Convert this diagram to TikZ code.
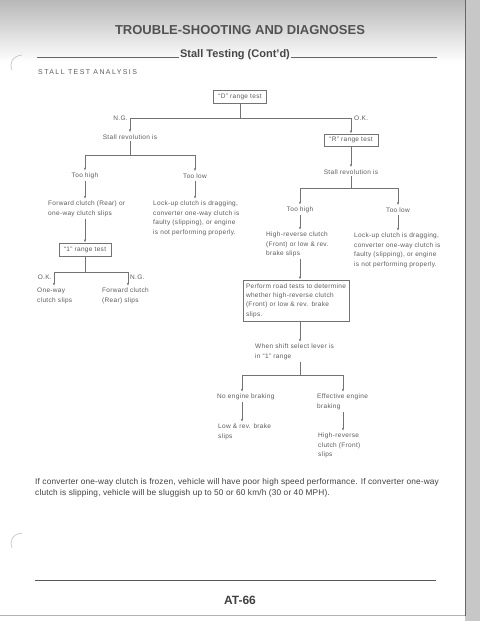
\documentclass[tikz,border=0pt]{standalone}
\usepackage{fontspec}
\setmainfont{Liberation Sans}
\newfontfamily\diagfont{Liberation Sans}[LetterSpace=5]
\newfontfamily\spacedfont{Liberation Sans}[LetterSpace=20]
\newfontfamily\parafont{Liberation Sans}[LetterSpace=2]
\usetikzlibrary{arrows.meta}
\definecolor{ink}{gray}{0.36}
\definecolor{rulec}{gray}{0.45}
\begin{document}
\begin{tikzpicture}[x=1pt,y=-1pt,
  every node/.style={inner sep=0pt, text=ink},
  dtext/.style={font=\diagfont\fontsize{6.5}{9.4}\selectfont, align=left},
  lt/.style={dtext, anchor=north west},
  ct/.style={dtext, anchor=center},
  rbox/.style={dtext, draw=rulec, line width=0.6pt, inner xsep=3pt, inner ysep=2pt},
  ln/.style={draw=rulec, line width=0.6pt},
  arr/.style={ln, -{Latex[length=3pt,width=2.2pt]}},
  hdr/.style={draw=black!60, line width=0.8pt}
]
\useasboundingbox (0,0) rectangle (480,621);
% page background
\fill[white] (0,0) rectangle (480,621);
\shade[top color=black!28, bottom color=white] (0,0) rectangle (465,62);
\fill[black!22] (465,0) rectangle (480,621);
\draw[black!60, line width=1pt] (465,0) -- (465,616);
\draw[black!30, line width=0.6pt] (0,615) -- (465,615);
\draw[black!25, line width=0.6pt] (22,55) .. controls (12,56) and (9,64) .. (12,70);
\draw[black!25, line width=0.6pt] (22,533) .. controls (12,534) and (9,542) .. (12,548);

% headings
\node[font=\bfseries\fontsize{13}{13}\selectfont, text=black!68] (title) at (240,30) {TROUBLE-SHOOTING AND DIAGNOSES};
\node[font=\bfseries\fontsize{11}{11}\selectfont, text=black!72, anchor=base, inner xsep=1pt] (sub) at (235,57) {Stall Testing (Cont’d)};
\coordinate (subL) at (37,57);
\coordinate (subR) at (437,57);
\draw[hdr] (subL) -- (sub.base west);
\draw[hdr] (sub.base east) -- (subR);
\node[font=\spacedfont\fontsize{7}{7}\selectfont, anchor=west] (sta) at (38,72.5) {STALL TEST ANALYSIS};

% D range test
\node[rbox, minimum width=53pt, minimum height=13pt] (D) at (240,96.5) {“D” range test};
\coordinate (busL) at (130,118);
\coordinate (busR) at (351,118);
\draw[ln] (D.south) -- (D.south |- busL);
\draw[ln] (busL) -- (busR);
\node[dtext, anchor=east] (ngL) at (128,118) {N.G.};
\node[dtext, anchor=west] (okR) at (354,118) {O.K.};

% left branch
\node[ct] (srL) at (130,137) {Stall revolution is};
\draw[arr, shorten >=2pt] (busL) -- (srL.north);
\coordinate (b2) at (130,155);
\draw[ln, shorten <=1.5pt] (srL.south) -- (b2);
\node[ct] (hiL) at (85,176) {Too high};
\node[ct] (loL) at (195,176) {Too low};
\draw[arr, shorten >=2pt] (b2) -| (hiL.north);
\draw[arr, shorten >=2pt] (b2) -| (loL.north);
\node[lt] (fwd) at (48,201) {Forward clutch (Rear) or\\one-way clutch slips};
\node[lt] (lk1) at (153,201) {Lock-up clutch is dragging,\\converter one-way clutch is\\faulty (slipping), or engine\\is not performing properly.};
\draw[arr, shorten <=2pt, shorten >=2pt] (hiL.south) -- (hiL.south |- fwd.north);
\draw[arr, shorten <=2pt, shorten >=2pt] (loL.south) -- (loL.south |- lk1.north);
\node[rbox, minimum width=52pt, minimum height=13pt] (one) at (85,249.5) {“1” range test};
\draw[arr, shorten <=2pt] (hiL |- fwd.south) -- (one.north);
\coordinate (b3) at (85,272);
\coordinate (okc) at (54,272);
\coordinate (ngc) at (128,272);
\draw[ln] (one.south) -- (b3);
\draw[ln] (okc) -- (ngc);
\node[dtext, anchor=east] (okL) at (52,277) {O.K.};
\node[dtext, anchor=west] (ngL2) at (130,277) {N.G.};
\node[lt] (ow) at (37,288) {One-way\\clutch slips};
\node[lt] (fr) at (102,288) {Forward clutch\\(Rear) slips};
\draw[arr, shorten >=2pt] (okc) -- (okc |- ow.north);
\draw[arr, shorten >=2pt] (ngc) -- (ngc |- fr.north);

% right branch
\node[rbox, minimum width=54pt, minimum height=12pt] (R) at (351,140) {“R” range test};
\draw[arr] (busR) -- (R.north);
\node[ct] (srR) at (351,172) {Stall revolution is};
\draw[arr, shorten >=2pt] (R.south) -- (srR.north);
\coordinate (b4) at (351,188);
\draw[ln, shorten <=1.5pt] (srR.south) -- (b4);
\node[ct] (hiR) at (300,210) {Too high};
\node[ct] (loR) at (398,210) {Too low};
\draw[arr, shorten >=2pt] (b4) -| (hiR.north);
\draw[arr, shorten >=2pt] (b4) -| (loR.north);
\node[lt] (hr) at (266,232) {High-reverse clutch\\(Front) or low \& rev.\\brake slips};
\node[lt] (lk2) at (354,233) {Lock-up clutch is dragging,\\converter one-way clutch is\\faulty (slipping), or engine\\is not performing properly.};
\draw[arr, shorten <=2pt, shorten >=2pt] (hiR.south) -- (hiR.south |- hr.north);
\draw[arr, shorten <=2pt, shorten >=2pt] (loR.south) -- (loR.south |- lk2.north);
\node[rbox, text width=100pt, minimum height=41pt, inner xsep=3pt] (perf) at (296,300.5) {Perform road tests to determine\\whether high-reverse clutch\\(Front) or low \& rev. brake\\slips.};
\draw[arr, shorten <=2pt] (hiR |- hr.south) -- (hiR |- perf.north);
\node[lt] (when) at (255,344) {When shift select lever is\\in “1” range};
\draw[arr, shorten >=2pt] (hiR |- perf.south) -- (hiR |- when.north);
\coordinate (b5) at (300,375);
\coordinate (ne) at (242,375);
\coordinate (ef) at (343,375);
\draw[ln, shorten <=2pt] (hiR |- when.south) -- (b5);
\draw[ln] (ne) -- (ef);
\node[lt] (noeng) at (217,394) {No engine braking};
\node[lt] (eff) at (317,394) {Effective engine\\braking};
\draw[arr, shorten >=2pt] (ne) -- (ne |- noeng.north);
\draw[arr, shorten >=2pt] (ef) -- (ef |- eff.north);
\node[lt] (low) at (218,424) {Low \& rev. brake\\slips};
\node[lt] (hrc) at (318,433) {High-reverse\\clutch (Front)\\slips};
\draw[arr, shorten <=2pt, shorten >=2pt] (ne |- noeng.south) -- (ne |- low.north);
\draw[arr, shorten <=2pt, shorten >=2pt] (ef |- eff.south) -- (ef |- hrc.north);

% note
\node[anchor=north west, align=left, text=black!75, font=\parafont\fontsize{8.3}{11}\selectfont] (para) at (35,478.5) {If converter one-way clutch is frozen, vehicle will have poor high speed performance. If converter one-way\\clutch is slipping, vehicle will be sluggish up to 50 or 60 km/h (30 or 40 MPH).};

% footer
\coordinate (fL) at (35,580);
\coordinate (fR) at (436,580);
\draw[draw=black!65, line width=0.9pt] (fL) -- (fR);
\node[font=\bfseries\fontsize{12}{12}\selectfont, text=black!75] (pg) at (240,600) {AT-66};
\end{tikzpicture}
\end{document}
